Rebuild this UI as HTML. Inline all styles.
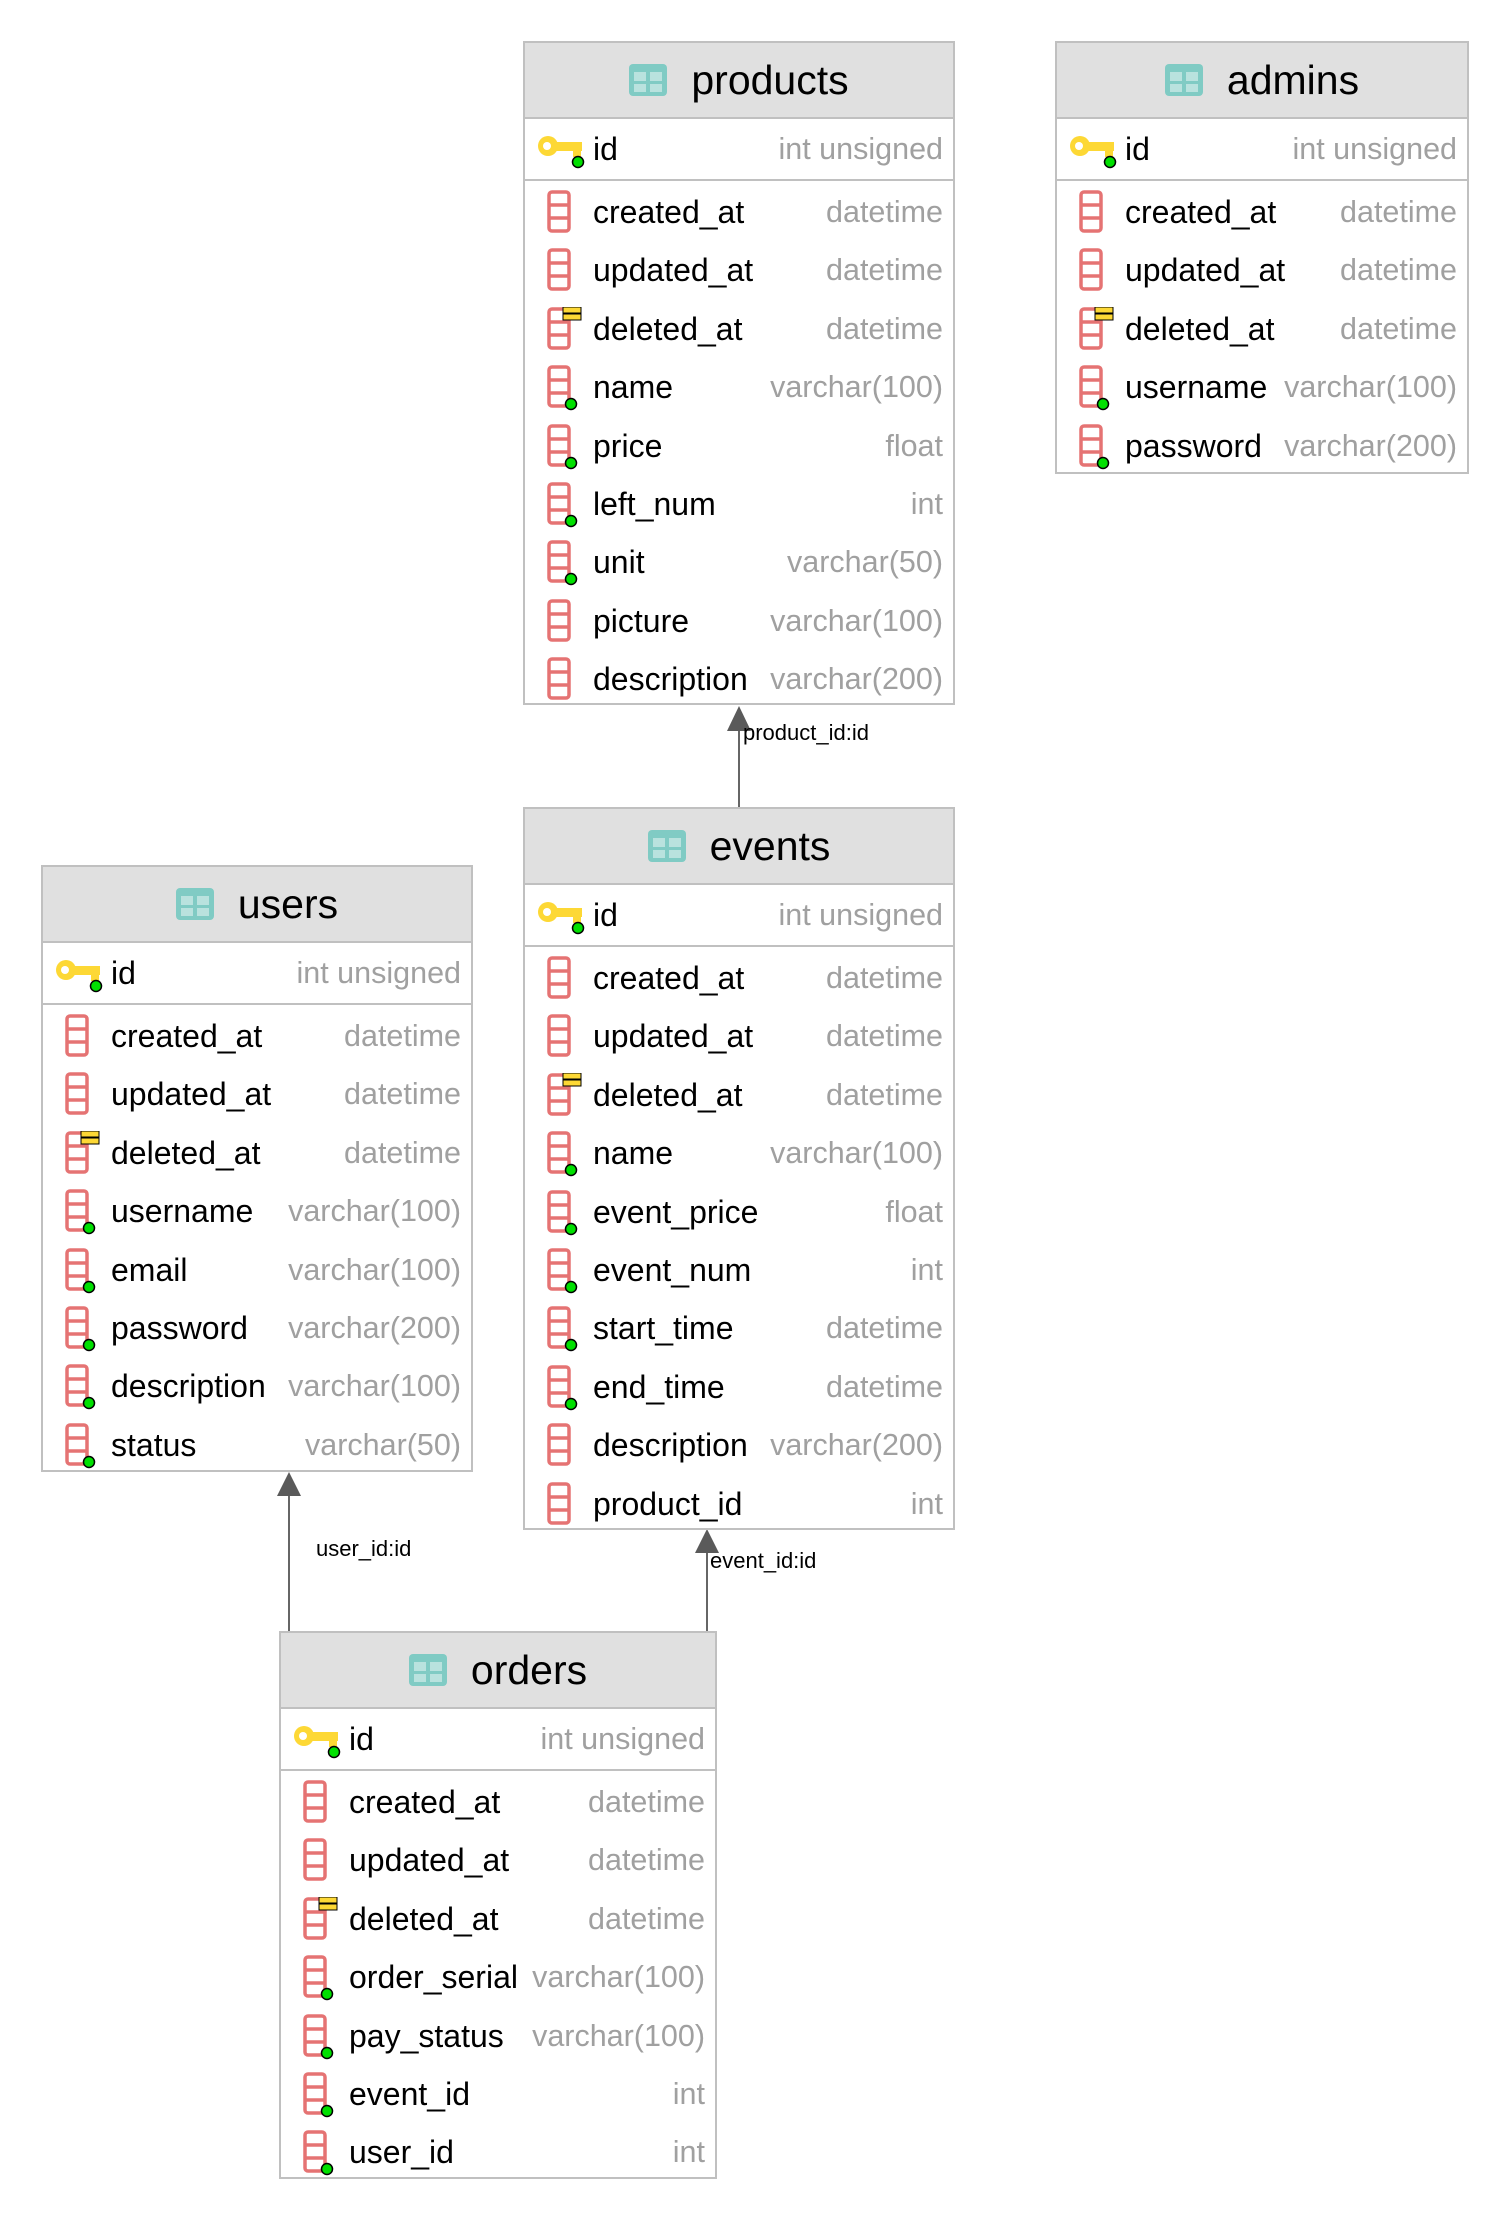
<!DOCTYPE html>
<html><head><meta charset="utf-8"><style>
body{margin:0;width:1510px;height:2220px;background:#fff;position:relative;overflow:hidden;font-family:"Liberation Sans",sans-serif}
.t{position:absolute;border:2px solid #c0c0c0;box-sizing:border-box;background:#fff}
.h{height:74px;background:#e0e0e0;border-bottom:2px solid #c0c0c0;display:flex;align-items:center;justify-content:center;font-size:41px;color:#000}
.h svg{margin-right:24px}
.pk{height:60px;border-bottom:2px solid #c0c0c0;position:relative}
.rows{padding-top:2px}
.r{height:58.4px;position:relative}
.n{position:absolute;left:68px;top:0;font-size:32px;color:#000}
.ty{position:absolute;right:10px;top:0;font-size:30.5px;color:#a0a0a0}
.pk,.r{line-height:58px}
.pk .n,.pk .ty{line-height:60px}
.ic{position:absolute;left:22px;top:7px}
.ki{position:absolute;left:12px;top:16px}
</style></head><body>
<svg width="0" height="0" style="position:absolute">
<defs>
<g id="col"><rect x="2" y="2" width="20" height="39" rx="3" fill="none" stroke="#e57373" stroke-width="3.5"/><line x1="2" y1="15" x2="22" y2="15" stroke="#e57373" stroke-width="3.5"/><line x1="2" y1="28" x2="22" y2="28" stroke="#e57373" stroke-width="3.5"/></g>
<g id="dot"><circle cx="24" cy="39" r="5.5" fill="#00e000" stroke="#000" stroke-width="1.5"/></g>
<g id="del"><rect x="16" y="0" width="18" height="6" fill="#fdd835" stroke="#000" stroke-width="1"/><rect x="16" y="7" width="18" height="6" fill="#fdd835" stroke="#000" stroke-width="1"/></g>
<g id="key"><circle cx="11" cy="11" r="10" fill="#fdd835"/><circle cx="10" cy="11" r="4" fill="#fff"/><rect x="18" y="7" width="27" height="9" fill="#fdd835"/><rect x="36" y="14" width="8" height="8" fill="#fdd835"/><circle cx="41" cy="27" r="5.5" fill="#00e000" stroke="#000" stroke-width="1.5"/></g>
<g id="tb"><rect x="0" y="0" width="38" height="32" rx="4" fill="#80cbc4"/><rect x="5" y="8" width="12" height="9" fill="#fff" opacity=".45"/><rect x="21" y="8" width="12" height="9" fill="#fff" opacity=".45"/><rect x="5" y="20" width="12" height="8" fill="#fff" opacity=".45"/><rect x="21" y="20" width="12" height="8" fill="#fff" opacity=".45"/></g>
</defs></svg>

<svg style="position:absolute;left:0;top:0" width="1510" height="2220">
<line x1="739" y1="730" x2="739" y2="807" stroke="#666" stroke-width="2"/>
<polygon points="739,706 727,731 751,731" fill="#5a5a5a"/>
<line x1="289" y1="1495" x2="289" y2="1631" stroke="#666" stroke-width="2"/>
<polygon points="289,1472 277,1496 301,1496" fill="#5a5a5a"/>
<line x1="707" y1="1552" x2="707" y2="1631" stroke="#666" stroke-width="2"/>
<polygon points="707,1529 695,1553 719,1553" fill="#5a5a5a"/>
<text x="743" y="740" font-family="Liberation Sans, sans-serif" font-size="22">product_id:id</text>
<text x="316" y="1556" font-family="Liberation Sans, sans-serif" font-size="22">user_id:id</text>
<text x="710" y="1568" font-family="Liberation Sans, sans-serif" font-size="22">event_id:id</text>
</svg>

<!-- products -->
<div class="t" style="left:523px;top:41px;width:432px;height:664px">
<div class="h"><svg width="38" height="32"><use href="#tb"/></svg>products</div>
<div class="pk"><svg class="ki" width="48" height="34"><use href="#key"/></svg><span class="n">id</span><span class="ty">int unsigned</span></div>
<div class="rows">
<div class="r"><svg class="ic" width="36" height="46"><use href="#col"/></svg><span class="n">created_at</span><span class="ty">datetime</span></div>
<div class="r"><svg class="ic" width="36" height="46"><use href="#col"/></svg><span class="n">updated_at</span><span class="ty">datetime</span></div>
<div class="r"><svg class="ic" width="36" height="46"><use href="#col"/><use href="#del"/></svg><span class="n">deleted_at</span><span class="ty">datetime</span></div>
<div class="r"><svg class="ic" width="36" height="46"><use href="#col"/><use href="#dot"/></svg><span class="n">name</span><span class="ty">varchar(100)</span></div>
<div class="r"><svg class="ic" width="36" height="46"><use href="#col"/><use href="#dot"/></svg><span class="n">price</span><span class="ty">float</span></div>
<div class="r"><svg class="ic" width="36" height="46"><use href="#col"/><use href="#dot"/></svg><span class="n">left_num</span><span class="ty">int</span></div>
<div class="r"><svg class="ic" width="36" height="46"><use href="#col"/><use href="#dot"/></svg><span class="n">unit</span><span class="ty">varchar(50)</span></div>
<div class="r"><svg class="ic" width="36" height="46"><use href="#col"/></svg><span class="n">picture</span><span class="ty">varchar(100)</span></div>
<div class="r"><svg class="ic" width="36" height="46"><use href="#col"/></svg><span class="n">description</span><span class="ty">varchar(200)</span></div>
</div></div>

<!-- admins -->
<div class="t" style="left:1055px;top:41px;width:414px;height:433px">
<div class="h"><svg width="38" height="32"><use href="#tb"/></svg>admins</div>
<div class="pk"><svg class="ki" width="48" height="34"><use href="#key"/></svg><span class="n">id</span><span class="ty">int unsigned</span></div>
<div class="rows">
<div class="r"><svg class="ic" width="36" height="46"><use href="#col"/></svg><span class="n">created_at</span><span class="ty">datetime</span></div>
<div class="r"><svg class="ic" width="36" height="46"><use href="#col"/></svg><span class="n">updated_at</span><span class="ty">datetime</span></div>
<div class="r"><svg class="ic" width="36" height="46"><use href="#col"/><use href="#del"/></svg><span class="n">deleted_at</span><span class="ty">datetime</span></div>
<div class="r"><svg class="ic" width="36" height="46"><use href="#col"/><use href="#dot"/></svg><span class="n">username</span><span class="ty">varchar(100)</span></div>
<div class="r"><svg class="ic" width="36" height="46"><use href="#col"/><use href="#dot"/></svg><span class="n">password</span><span class="ty">varchar(200)</span></div>
</div></div>

<!-- events -->
<div class="t" style="left:523px;top:807px;width:432px;height:723px">
<div class="h"><svg width="38" height="32"><use href="#tb"/></svg>events</div>
<div class="pk"><svg class="ki" width="48" height="34"><use href="#key"/></svg><span class="n">id</span><span class="ty">int unsigned</span></div>
<div class="rows">
<div class="r"><svg class="ic" width="36" height="46"><use href="#col"/></svg><span class="n">created_at</span><span class="ty">datetime</span></div>
<div class="r"><svg class="ic" width="36" height="46"><use href="#col"/></svg><span class="n">updated_at</span><span class="ty">datetime</span></div>
<div class="r"><svg class="ic" width="36" height="46"><use href="#col"/><use href="#del"/></svg><span class="n">deleted_at</span><span class="ty">datetime</span></div>
<div class="r"><svg class="ic" width="36" height="46"><use href="#col"/><use href="#dot"/></svg><span class="n">name</span><span class="ty">varchar(100)</span></div>
<div class="r"><svg class="ic" width="36" height="46"><use href="#col"/><use href="#dot"/></svg><span class="n">event_price</span><span class="ty">float</span></div>
<div class="r"><svg class="ic" width="36" height="46"><use href="#col"/><use href="#dot"/></svg><span class="n">event_num</span><span class="ty">int</span></div>
<div class="r"><svg class="ic" width="36" height="46"><use href="#col"/><use href="#dot"/></svg><span class="n">start_time</span><span class="ty">datetime</span></div>
<div class="r"><svg class="ic" width="36" height="46"><use href="#col"/><use href="#dot"/></svg><span class="n">end_time</span><span class="ty">datetime</span></div>
<div class="r"><svg class="ic" width="36" height="46"><use href="#col"/></svg><span class="n">description</span><span class="ty">varchar(200)</span></div>
<div class="r"><svg class="ic" width="36" height="46"><use href="#col"/></svg><span class="n">product_id</span><span class="ty">int</span></div>
</div></div>

<!-- users -->
<div class="t" style="left:41px;top:865px;width:432px;height:607px">
<div class="h"><svg width="38" height="32"><use href="#tb"/></svg>users</div>
<div class="pk"><svg class="ki" width="48" height="34"><use href="#key"/></svg><span class="n">id</span><span class="ty">int unsigned</span></div>
<div class="rows">
<div class="r"><svg class="ic" width="36" height="46"><use href="#col"/></svg><span class="n">created_at</span><span class="ty">datetime</span></div>
<div class="r"><svg class="ic" width="36" height="46"><use href="#col"/></svg><span class="n">updated_at</span><span class="ty">datetime</span></div>
<div class="r"><svg class="ic" width="36" height="46"><use href="#col"/><use href="#del"/></svg><span class="n">deleted_at</span><span class="ty">datetime</span></div>
<div class="r"><svg class="ic" width="36" height="46"><use href="#col"/><use href="#dot"/></svg><span class="n">username</span><span class="ty">varchar(100)</span></div>
<div class="r"><svg class="ic" width="36" height="46"><use href="#col"/><use href="#dot"/></svg><span class="n">email</span><span class="ty">varchar(100)</span></div>
<div class="r"><svg class="ic" width="36" height="46"><use href="#col"/><use href="#dot"/></svg><span class="n">password</span><span class="ty">varchar(200)</span></div>
<div class="r"><svg class="ic" width="36" height="46"><use href="#col"/><use href="#dot"/></svg><span class="n">description</span><span class="ty">varchar(100)</span></div>
<div class="r"><svg class="ic" width="36" height="46"><use href="#col"/><use href="#dot"/></svg><span class="n">status</span><span class="ty">varchar(50)</span></div>
</div></div>

<!-- orders -->
<div class="t" style="left:279px;top:1631px;width:438px;height:548px">
<div class="h"><svg width="38" height="32"><use href="#tb"/></svg>orders</div>
<div class="pk"><svg class="ki" width="48" height="34"><use href="#key"/></svg><span class="n">id</span><span class="ty">int unsigned</span></div>
<div class="rows">
<div class="r"><svg class="ic" width="36" height="46"><use href="#col"/></svg><span class="n">created_at</span><span class="ty">datetime</span></div>
<div class="r"><svg class="ic" width="36" height="46"><use href="#col"/></svg><span class="n">updated_at</span><span class="ty">datetime</span></div>
<div class="r"><svg class="ic" width="36" height="46"><use href="#col"/><use href="#del"/></svg><span class="n">deleted_at</span><span class="ty">datetime</span></div>
<div class="r"><svg class="ic" width="36" height="46"><use href="#col"/><use href="#dot"/></svg><span class="n">order_serial</span><span class="ty">varchar(100)</span></div>
<div class="r"><svg class="ic" width="36" height="46"><use href="#col"/><use href="#dot"/></svg><span class="n">pay_status</span><span class="ty">varchar(100)</span></div>
<div class="r"><svg class="ic" width="36" height="46"><use href="#col"/><use href="#dot"/></svg><span class="n">event_id</span><span class="ty">int</span></div>
<div class="r"><svg class="ic" width="36" height="46"><use href="#col"/><use href="#dot"/></svg><span class="n">user_id</span><span class="ty">int</span></div>
</div></div>
</body></html>
